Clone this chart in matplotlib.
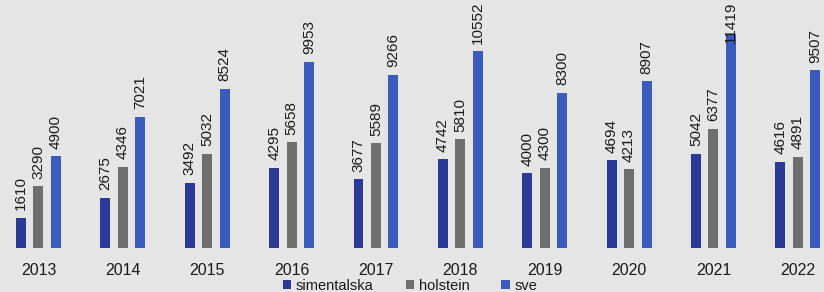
import matplotlib
matplotlib.use("Agg")
import matplotlib.pyplot as plt
import numpy as np

years = ["2013", "2014", "2015", "2016", "2017", "2018", "2019", "2020", "2021", "2022"]
simentalska = [1610, 2675, 3492, 4295, 3677, 4742, 4000, 4694, 5042, 4616]
holstein = [3290, 4346, 5032, 5658, 5589, 5810, 4300, 4213, 6377, 4891]
sve = [4900, 7021, 8524, 9953, 9266, 10552, 8300, 8907, 11419, 9507]

series = [("simentalska", simentalska, "#2b3a96"),
          ("holstein", holstein, "#6e6e6e"),
          ("sve", sve, "#3b5cbc")]

plt.rcParams['font.family'] = ["Liberation Sans", "DejaVu Sans"]

bg = "#e5e5e5"
fig = plt.figure(figsize=(8.24, 2.92), dpi=100, facecolor=bg)
ax = fig.add_axes([0, 44/292, 1, 248/292], facecolor=bg)

x = np.arange(len(years))
w = 0.118
off = 0.207
labels = []
for i, (name, vals, col) in enumerate(series):
    xs = x + (i - 1) * off
    ax.bar(xs, vals, width=w, color=col, label=name, zorder=2)
    for xv, v in zip(xs, vals):
        t = ax.annotate(str(v), (xv, v), xytext=(0, 5.5), textcoords="offset points",
                        rotation=90, ha="center", va="bottom", fontsize=11,
                        color="#1a1a1a", annotation_clip=False, zorder=3)
        labels.append((t, xv))

ax.set_xlim(-0.456, 9.31)
ax.set_ylim(0, 13260)
ax.set_yticks([])
ax.set_xticks(x)
ax.set_xticklabels(years, fontsize=11.5, color="#1a1a1a")
ax.tick_params(axis="x", length=0, pad=11)
for s in ax.spines.values():
    s.set_visible(False)

leg = fig.legend(loc="center", bbox_to_anchor=(410/824, 1 - 285.5/292), ncol=3,
                 frameon=False, fontsize=10.5, handlelength=0.6, handleheight=0.6,
                 handletextpad=0.3, columnspacing=2.2, borderpad=0)
for t in leg.get_texts():
    t.set_color("#1a1a1a")

# keep value labels inside the figure: clamp the tallest ones to the top edge
fig.canvas.draw()
r = fig.canvas.get_renderer()
H = fig.bbox.height
for t, xv in labels:
    bb = t.get_window_extent(r)
    if bb.y1 > H - 1:
        t.xy = (xv, ax.get_ylim()[1])
        t.xyann = (0, -1)
        t.set_va("top")

fig.savefig("out.png", dpi=100, facecolor=bg)
